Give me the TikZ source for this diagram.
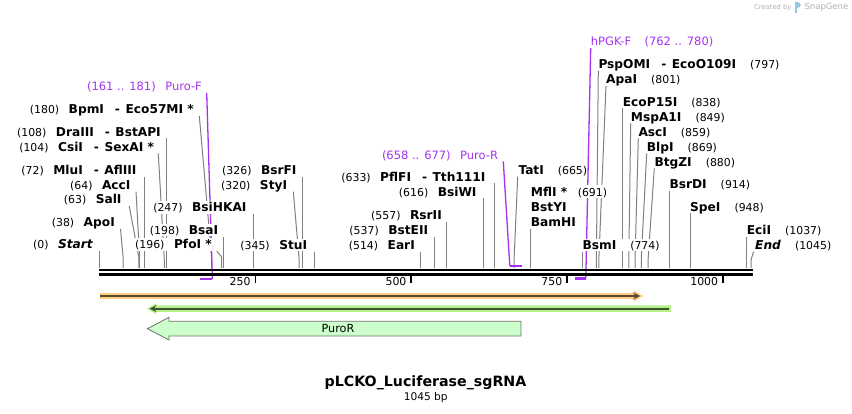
\documentclass[tikz,border=0pt]{standalone}
\usepackage{fontspec}
\setmainfont{DejaVu Sans}
\usepackage{xcolor}
\usepackage{tikz}
\usetikzlibrary{arrows, positioning, backgrounds}

\definecolor{cutgray}{RGB}{128,128,128}
\definecolor{primer}{RGB}{166,50,240}
\definecolor{orangefill}{RGB}{255,202,128}
\definecolor{orangeline}{RGB}{88,72,52}
\definecolor{greenfill}{RGB}{182,240,134}
\definecolor{greenline}{RGB}{60,84,48}
\definecolor{purofill}{RGB}{204,255,204}
\definecolor{puroline}{RGB}{112,112,112}
\definecolor{credit}{RGB}{175,175,175}
\definecolor{logo}{RGB}{150,200,225}

\newcommand{\numf}{\fontsize{10.9}{13}\selectfont\mdseries}
\newcommand{\gapl}{\hspace{9.5pt}}
\newcommand{\gapr}{\hspace{14pt}}
\newcommand{\isosep}{\hspace{11pt}-\hspace{5.5pt}}

\begin{document}
\begin{tikzpicture}[
    x=1pt, y=-1pt,
    enz/.style={anchor=east, font=\fontsize{12.2}{14}\selectfont\bfseries, inner xsep=0pt, inner ysep=2pt, text height=8.9pt, text depth=0pt, fill=white},
    enzr/.style={enz, anchor=west},
    primerlbl/.style={enz, font=\fontsize{11.5}{14}\selectfont, text=primer, text height=8.4pt},
    cut/.style={draw=cutgray, line width=1pt},
    primerline/.style={draw=primer, line width=1.3pt},
    primerbar/.style={draw=primer, line width=2.4pt},
    backbone/.style={draw=black, line width=2.6pt},
    tick/.style={draw=black, line width=1.8pt},
    ticklbl/.style={anchor=east, font=\numf, inner sep=0pt},
    feature/.style={line width=2pt, ->, >=stealth}
]
\useasboundingbox (0,0) rectangle (852,414);

% Cut sites and primer ends on the sequence
\coordinate (c0) at (99.5,268);    \coordinate (c38) at (123.2,268);  \coordinate (c63) at (138.8,268);
\coordinate (c64) at (139.4,268);  \coordinate (c72) at (144.4,268);  \coordinate (c104) at (164.3,268);
\coordinate (c108) at (166.8,268); \coordinate (c180) at (211.7,268); \coordinate (c196) at (221.7,268);
\coordinate (c198) at (223.0,268); \coordinate (c247) at (253.5,268); \coordinate (c320) at (299.0,268);
\coordinate (c326) at (302.8,268); \coordinate (c345) at (314.6,268); \coordinate (c514) at (420.0,268);
\coordinate (c537) at (434.3,268); \coordinate (c557) at (446.8,268); \coordinate (c616) at (483.6,268);
\coordinate (c633) at (494.2,268); \coordinate (c665) at (514.1,268); \coordinate (c691) at (530.3,268);
\coordinate (c774) at (582.1,268); \coordinate (c797) at (596.4,268); \coordinate (c801) at (598.9,268);
\coordinate (c838) at (622.0,268); \coordinate (c849) at (628.8,268); \coordinate (c859) at (635.1,268);
\coordinate (c869) at (641.3,268); \coordinate (c880) at (648.2,268); \coordinate (c914) at (669.4,268);
\coordinate (c948) at (690.6,268); \coordinate (c1037) at (746.4,268); \coordinate (c1045) at (751.0,268);
\coordinate (p161) at (199.9,279); \coordinate (p181) at (212.4,279);
\coordinate (p658) at (509.8,266); \coordinate (p677) at (521.6,266);
\coordinate (p762) at (574.6,278.5); \coordinate (p780) at (585.8,278.5);

% Enzymes, left side
\node[enz] (start) at (93.3,244.3) {{\numf (0)}\gapl\textit{Start}};
\node[enz] (apoi) at (115,222.3) {{\numf (38)}\gapl ApoI};
\node[enz] (sali) at (121.7,199.3) {{\numf (63)}\gapl SalI};
\node[enz] (acci) at (130.7,185) {{\numf (64)}\gapl AccI};
\node[enz] (mlui) at (136.7,170) {{\numf (72)}\gapl MluI\isosep AflIII};
\node[enz] (csii) at (154.3,146.7) {{\numf (104)}\gapl CsiI\isosep SexAI *};
\node[enz] (draiii) at (161,131.7) {{\numf (108)}\gapl DraIII\isosep BstAPI};
\node[enz] (bpmi) at (194,109.3) {{\numf (180)}\gapl BpmI\isosep Eco57MI *};
\node[enz] (pfoi) at (212,244.3) {{\numf (196)}\gapl PfoI *};
\node[enz] (bsai) at (218.3,230) {{\numf (198)}\gapl BsaI};
\node[enz] (bsihkai) at (246.7,207.3) {{\numf (247)}\gapl BsiHKAI};
\node[enz] (bsrfi) at (296.7,170) {{\numf (326)}\gapl BsrFI};
\node[enz] (styi) at (287.3,185) {{\numf (320)}\gapl StyI};
\node[enz] (stui) at (307.3,245) {{\numf (345)}\gapl StuI};
\node[enz] (eari) at (415,245) {{\numf (514)}\gapl EarI};
\node[enz] (bsteii) at (428.3,230) {{\numf (537)}\gapl BstEII};
\node[enz] (rsrii) at (442,215) {{\numf (557)}\gapl RsrII};
\node[enz] (bsiwi) at (476.7,191.7) {{\numf (616)}\gapl BsiWI};
\node[enz] (pflfi) at (485.7,176.7) {{\numf (633)}\gapl PflFI\isosep Tth111I};

% Enzymes, right side
\node[enzr] (tati) at (518.3,170) {TatI\gapr{\numf (665)}};
\node[enzr] (mfli) at (530.7,191.7) {MflI *\hspace{10.5pt}{\numf (691)}};
\node[enzr, below=2.1pt of mfli.south west, anchor=north west] (bstyi) {BstYI};
\node[enzr, below=2.1pt of bstyi.south west, anchor=north west] (bamhi) {BamHI};
\node[enzr] (bsmi) at (582.3,245) {BsmI\gapr{\numf (774)}};
\node[enzr] (pspomi) at (598.3,64.3) {PspOMI\isosep EcoO109I\gapr{\numf (797)}};
\node[enzr] (apai) at (606,79.3) {ApaI\gapr{\numf (801)}};
\node[enzr] (ecop15i) at (622.7,101.7) {EcoP15I\gapr{\numf (838)}};
\node[enzr] (mspa1i) at (630.7,116.7) {MspA1I\gapr{\numf (849)}};
\node[enzr] (asci) at (638.3,131.7) {AscI\gapr{\numf (859)}};
\node[enzr] (blpi) at (646.7,146.7) {BlpI\gapr{\numf (869)}};
\node[enzr] (btgzi) at (654.3,161.7) {BtgZI\gapr{\numf (880)}};
\node[enzr] (bsrdi) at (669.3,184.3) {BsrDI\gapr{\numf (914)}};
\node[enzr] (spei) at (690,206.7) {SpeI\gapr{\numf (948)}};
\node[enzr] (ecii) at (746.7,230) {EciI\gapr{\numf (1037)}};
\node[enzr] (end) at (755,245) {\textit{End}\gapr{\numf (1045)}};

% Primers
\node[primerlbl] (purofwd) at (202,86.7) {(161 .. 181)\gapl Puro-F};
\node[primerlbl] (purorev) at (498.3,155) {(658 .. 677)\gapl Puro-R};
\node[primerlbl, anchor=west] (hpgkfwd) at (590.7,41.7) {hPGK-F\hspace{13.5pt}(762 .. 780)};

% Lines to the labels
\begin{scope}[on background layer]
\draw[cut] (c0) -- (c0 |- start.south);
\draw[cut] (c38) -- ++(0,-10) -- ([xshift=5.5pt]apoi.south east);
\draw[cut] (c63) -- ++(0,-11) -- ([xshift=7.5pt]sali.south east);
\draw[cut] (c64) -- ++(0,-16) -- ([xshift=5.3pt]acci.south east);
\draw[cut] (c72) -- (c72 |- mlui.south);
\draw[cut] (c104) -- ++(0,-8) -- ([xshift=4pt]csii.south east);
\draw[cut] (c108) -- (c108 |- draiii.south);
\draw[cut] (c180) -- ++(0,-10) -- ([xshift=5.3pt]bpmi.south east);
\draw[cut] (c196) -- ++(0,-11) -- ([xshift=4.7pt]pfoi.south east);
\draw[cut] (c198) -- (c198 |- bsai.south);
\draw[cut] (c247) -- (c247 |- bsihkai.south);
\draw[cut] (c320) -- ++(0,-10) -- ([xshift=6pt]styi.south east);
\draw[cut] (c326) -- (c326 |- bsrfi.south);
\draw[cut] (c345) -- (c345 |- stui.south);
\draw[cut] (c514) -- (c514 |- eari.south);
\draw[cut] (c537) -- (c537 |- bsteii.south);
\draw[cut] (c557) -- (c557 |- rsrii.south);
\draw[cut] (c616) -- (c616 |- bsiwi.south);
\draw[cut] (c633) -- (c633 |- pflfi.south);
\draw[cut] (c665) -- ++(0,-10) -- ([xshift=-0.6pt]tati.south west);
\draw[cut] (c691) -- (c691 |- bamhi.south);
\draw[cut] (c774) -- (c774 |- bsmi.south);
\draw[cut] (c797) -- ++(0,-10) -- (pspomi.south west);
\draw[cut] (c801) -- ++(0,-10) -- (apai.south west);
\draw[cut] (c838) -- (c838 |- ecop15i.south);
\draw[cut] (c849) -- ++(0,-10) -- (mspa1i.south west);
\draw[cut] (c859) -- ++(0,-10) -- (asci.south west);
\draw[cut] (c869) -- ++(0,-10) -- (blpi.south west);
\draw[cut] (c880) -- ++(0,-10) -- (btgzi.south west);
\draw[cut] (c914) -- (c914 |- bsrdi.south);
\draw[cut] (c948) -- (c948 |- spei.south);
\draw[cut] (c1037) -- (c1037 |- ecii.south);
\draw[cut] (c1045) -- ++(0,-8) -- ([xshift=-1.5pt]end.south west);
\draw[primerline] ([xshift=4.7pt]purofwd.south east) -- (p181);
\draw[primerline] ([xshift=5pt]purorev.south east) -- (p658);
\draw[primerline] (hpgkfwd.south west) -- (p780);
\end{scope}

% Sequence and ticks
\draw[backbone] (99,270) -- (752.7,270);
\draw[backbone] (99,274.3) -- (752.7,274.3);
\draw[primerbar] (p161) -- (p181);
\draw[primerbar] (p658) -- (p677);
\draw[primerbar] (p762) -- (p780);
\draw[tick] (255.4,275) -- (255.4,283);
\draw[tick] (411.3,275) -- (411.3,283);
\draw[tick] (567.1,275) -- (567.1,283);
\draw[tick] (723.0,275) -- (723.0,283);
\node[ticklbl] (t250) at (250.7,282) {250};
\node[ticklbl] (t500) at (406.6,282) {500};
\node[ticklbl] (t750) at (562.4,282) {750};
\node[ticklbl] (t1000) at (718.3,282) {1000};

% Features
\fill[orangefill] (100,293.2) -- (634,293.2) -- (634,290.6) -- (643,296) -- (634,301.4) -- (634,298.8) -- (100,298.8) -- cycle;
\draw[feature, orangeline] (100,296) -- (640,296);
\fill[greenfill] (671,305.4) -- (156,305.4) -- (156,303.3) -- (147,308.7) -- (156,314.1) -- (156,312) -- (671,312) -- cycle;
\draw[feature, greenline] (668.5,308.7) -- (149.5,308.7);
\draw[draw=puroline, fill=purofill, line width=0.8pt] (521,321.3) -- (169,321.3) -- (169,317.3) -- (147.5,328.7) -- (169,340) -- (169,336) -- (521,336) -- cycle;
\node[font=\fontsize{11.2}{13}\selectfont] (puro) at (338,328.7) {PuroR};

% Title
\node[font=\fontsize{14.2}{16}\selectfont\bfseries] (title) at (425.5,383) {pLCKO\_Luciferase\_sgRNA};
\node[font=\fontsize{10.6}{12}\selectfont] (size) at (425.8,398) {1045 bp};

% Credit
\node[font=\fontsize{6.8}{8}\selectfont, text=credit, anchor=east, inner sep=0pt] (created) at (791.7,7.3) {Created by};
\fill[logo] (795,2.5) rectangle (797.3,13);
\fill[logo] (797.3,2.5) .. controls (802,2.5) and (802,8.5) .. (797.3,8.5) -- cycle;
\node[font=\fontsize{8.5}{10}\selectfont, text=credit, anchor=west, inner sep=0pt] (snapgene) at (804.3,7.3) {SnapGene};

\end{tikzpicture}
\end{document}
